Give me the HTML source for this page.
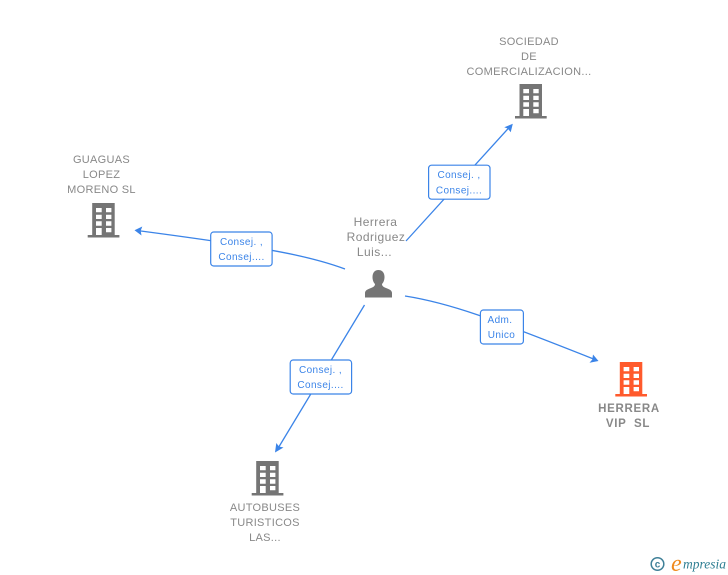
<!DOCTYPE html>
<html><head><meta charset="utf-8"><style>
html,body{margin:0;padding:0;background:#fff}
svg{display:block}
text{font-family:"Liberation Sans",sans-serif}
.n{font-size:11px;fill:#888;text-anchor:middle;letter-spacing:.3px}
.b{font-weight:bold;font-size:11.5px;letter-spacing:.7px}
.h{font-size:12px;letter-spacing:.45px}
.l{font-size:10px;fill:#3b84e8;text-anchor:middle;letter-spacing:.4px}
.c{fill:none;stroke:#3b84e8;stroke-width:1.3}
.r{fill:#fff;stroke:#3b84e8;stroke-width:1.2}
.a{fill:#3b84e8}
</style></head><body>
<svg width="728" height="575" viewBox="0 0 728 575" xmlns="http://www.w3.org/2000/svg">
<defs>
<path id="bld" fill-rule="evenodd" d="M4.5 0H27V32H31.7V34.5H0V32H4.5ZM8.3 5V9.3H14V5ZM18.3 5V9.3H23.7V5ZM8.3 11.7V16H14V11.7ZM18.3 11.7V16H23.7V11.7ZM8.3 18.3V22.7H14V18.3ZM18.3 18.3V22.7H23.7V18.3ZM8.3 25V32H14V25ZM18.3 25V29.3H23.7V25Z"/>
</defs>

<path class="c" d="M406 241L510 126.5"/>
<path class="c" d="M345 269C310 256 270 248 137 230.500"/>
<path class="c" d="M405 296C450 303 490 318 596 360"/>
<path class="c" d="M364.500 305L277 450"/>

<path class="a" d="M512.800 123.800L504.300 127.300L507.900 128.600L510.700 132.300Z"/>
<path class="a" d="M134.500 230.300L142.300 226.500L140.700 230.700L141.500 235.500Z"/>
<path class="a" d="M598.500 361L589.500 362.800L592.300 359.500L593 354.500Z"/>
<path class="a" d="M275 452.500L276.300 443L279 446.500L283.500 447.500Z"/>

<rect class="r" x="428.600" y="165.200" width="61.400" height="34" rx="3"/>
<text class="l" x="459" y="178">Consej. ,</text>
<text class="l" x="459" y="193.500">Consej....</text>

<rect class="r" x="210.700" y="232" width="61.400" height="34" rx="3"/>
<text class="l" x="241.500" y="245">Consej. ,</text>
<text class="l" x="241.500" y="260">Consej....</text>

<rect class="r" x="480.400" y="310" width="43" height="34" rx="3"/>
<text class="l" x="500" y="323">Adm.</text>
<text class="l" x="501.500" y="338">Unico</text>

<rect class="r" x="290.200" y="360" width="61.400" height="34" rx="3"/>
<text class="l" x="320.500" y="373">Consej. ,</text>
<text class="l" x="320.500" y="388">Consej....</text>

<use href="#bld" x="515" y="84" fill="#757575"/>
<use href="#bld" x="87.700" y="203" fill="#757575"/>
<use href="#bld" x="251.700" y="461" fill="#757575"/>
<use href="#bld" x="615.300" y="362" fill="#ff5a2c"/>

<text class="n" x="529" y="45">SOCIEDAD</text>
<text class="n" x="529" y="60">DE</text>
<text class="n" x="529" y="75">COMERCIALIZACION...</text>

<text class="n" x="101.500" y="163">GUAGUAS</text>
<text class="n" x="101.500" y="178">LOPEZ</text>
<text class="n" x="101.500" y="193">MORENO SL</text>

<text class="n" x="265" y="511">AUTOBUSES</text>
<text class="n" x="265" y="526">TURISTICOS</text>
<text class="n" x="265" y="541">LAS...</text>

<text class="n b" x="629" y="412">HERRERA</text>
<text class="n b" x="628" y="427" xml:space="preserve">VIP  SL</text>

<text class="n h" x="375.500" y="226">Herrera</text>
<text class="n h" x="376" y="241">Rodriguez</text>
<text class="n h" x="374.500" y="256">Luis...</text>

<path fill="#757575" d="M378.500 270C374.500 270 372.500 273 372.500 277C372.500 280 373.500 282.500 375 284C375 286 373.500 287 371 288C367.500 289.300 365 290.500 365 293V297.500H392V293C392 290.500 389.500 289.300 386 288C383.500 287 382 286 382 284C383.500 282.500 384.500 280 384.500 277C384.500 273 382.500 270 378.500 270Z"/>

<circle cx="657.500" cy="564" r="6.300" fill="none" stroke="#3f8098" stroke-width="1.500"/>
<text x="657.500" y="567.500" text-anchor="middle" style="font-size:10px;fill:#3f8098;font-weight:bold">c</text>
<text x="671" y="571" style="font-family:'Liberation Serif',serif;font-style:italic;font-size:24px;fill:#f08a1d">e</text>
<text x="683" y="568.500" style="font-family:'Liberation Serif',serif;font-style:italic;font-size:13.500px;fill:#2f7f93">mpresia</text>
</svg>
</body></html>
